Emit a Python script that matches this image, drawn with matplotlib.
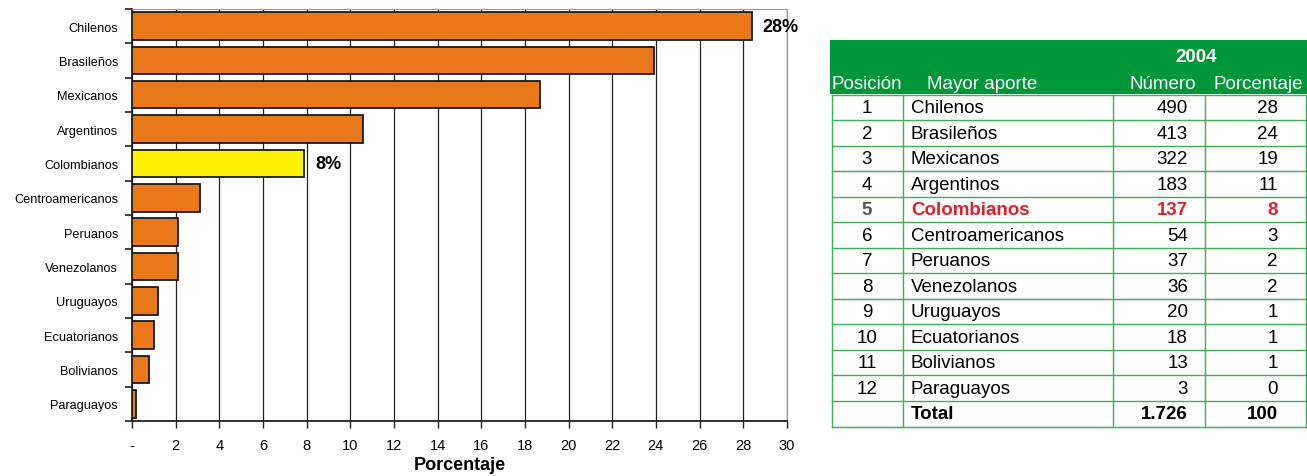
import matplotlib.pyplot as plt
from matplotlib.patches import Rectangle
from matplotlib.ticker import FixedLocator, FuncFormatter

plt.rcParams['font.family'] = ['Liberation Sans Narrow', 'Liberation Sans', 'DejaVu Sans']

# data
groups = ['Chilenos', 'Brasileños', 'Mexicanos', 'Argentinos', 'Colombianos',
          'Centroamericanos', 'Peruanos', 'Venezolanos', 'Uruguayos',
          'Ecuatorianos', 'Bolivianos', 'Paraguayos']
pct_bar = [28.4, 23.9, 18.7, 10.6, 7.9, 3.1, 2.1, 2.1, 1.2, 1.0, 0.8, 0.2]
numbers = ['490', '413', '322', '183', '137', '54', '37', '36', '20', '18', '13', '3']
pct_table = ['28', '24', '19', '11', '8', '3', '2', '2', '1', '1', '1', '0']
total_num = '1.726'
total_pct = '100'
highlight = 'Colombianos'
bar_labels = {'Chilenos': '28%', 'Colombianos': '8%'}

orange = '#E8781A'
yellow = '#FFF200'
green = '#00963A'
line_green = '#3FAE55'
red = '#E0202A'

fig = plt.figure(figsize=(13.07, 4.77), dpi=100)

# ---- bar chart ----
ax = fig.add_axes([0.101, 0.1153, 0.501, 0.864])
ypos = list(range(len(groups)))
colors = [yellow if g == highlight else orange for g in groups]
ax.barh(ypos, pct_bar, height=0.8, color=colors, edgecolor='#1a1a1a', lw=1.3, zorder=3)
for g, y, v in zip(groups, ypos, pct_bar):
    if g in bar_labels:
        ax.text(v + 0.5, y, bar_labels[g], va='center', ha='left',
                fontsize=13, fontweight='bold')

ax.set_xlim(0, 30)
ax.set_ylim(len(groups) - 0.5, -0.5)
ax.set_xticks(range(0, 31, 2))
ax.xaxis.set_major_formatter(FuncFormatter(lambda v, p: '-' if v == 0 else '%d' % v))
ax.grid(axis='x', color='#222222', lw=0.9, zorder=0)
ax.set_yticks(ypos)
ax.set_yticklabels(groups)
ax.yaxis.set_minor_locator(FixedLocator([i - 0.5 for i in range(len(groups) + 1)]))
ax.tick_params(axis='y', which='major', length=0, labelsize=9.2, pad=10)
ax.tick_params(axis='y', which='minor', length=5, width=1.2, color='#222222')
ax.tick_params(axis='x', length=5, width=1, labelsize=10.5, color='#222222', pad=7)
for side in ('top', 'right'):
    ax.spines[side].set_color('#999999')
for side in ('left', 'bottom'):
    ax.spines[side].set_color('#222222')
    ax.spines[side].set_linewidth(1.3)
ax.set_xlabel('Porcentaje', fontsize=13, fontweight='bold', labelpad=3)

# ---- table ----
tb = fig.add_axes([0.635, 0.0985, 0.365, 0.816])
W, H = 477, 389
tb.set_xlim(0, W)
tb.set_ylim(H, 0)
tb.axis('off')

col_edges = [2, 73, 283, 375, 476]
head_h = 54
row_h = 25.5
font = 13.5

tb.add_patch(Rectangle((0, 0), W, head_h, color=green, lw=0))
tb.text((col_edges[2] + col_edges[4]) / 2 - 13, 17, '2004', color='white',
        fontsize=font, fontweight='bold', ha='center', va='center')
heads = ['Posición', 'Mayor aporte', 'Número', 'Porcentaje']
head_x = [37, 152, 333, 428]
for h, x in zip(heads, head_x):
    tb.text(x, 44, h, color='white', fontsize=font, ha='center', va='center')

rows = []
for i, g in enumerate(groups):
    rows.append((str(i + 1), g, numbers[i], pct_table[i], g == highlight, False))
rows.append(('', 'Total', total_num, total_pct, False, True))

y0 = head_h + 1
for i, (pos, name, num, pc, hl, tot) in enumerate(rows):
    yc = y0 + (i + 0.5) * row_h
    c = red if hl else 'black'
    w = 'bold' if (hl or tot) else 'normal'
    tb.text(37, yc, pos, ha='center', va='center', fontsize=font,
            color='#555555' if hl else 'black', fontweight=w)
    tb.text(col_edges[1] + 8, yc, name, ha='left', va='center', fontsize=font,
            color=c, fontweight=w)
    tb.text(col_edges[3] - 17, yc, num, ha='right', va='center', fontsize=font,
            color=c, fontweight=w)
    tb.text(col_edges[4] - 28, yc, pc, ha='right', va='center', fontsize=font,
            color=c, fontweight=w)

y_end = y0 + len(rows) * row_h
for i in range(len(rows) + 1):
    yy = y0 + i * row_h
    tb.plot([col_edges[0], col_edges[-1]], [yy, yy], color=line_green, lw=1)
for x in col_edges:
    tb.plot([x, x], [y0, y_end], color=line_green, lw=1)

fig.savefig('out.png', dpi=100)
